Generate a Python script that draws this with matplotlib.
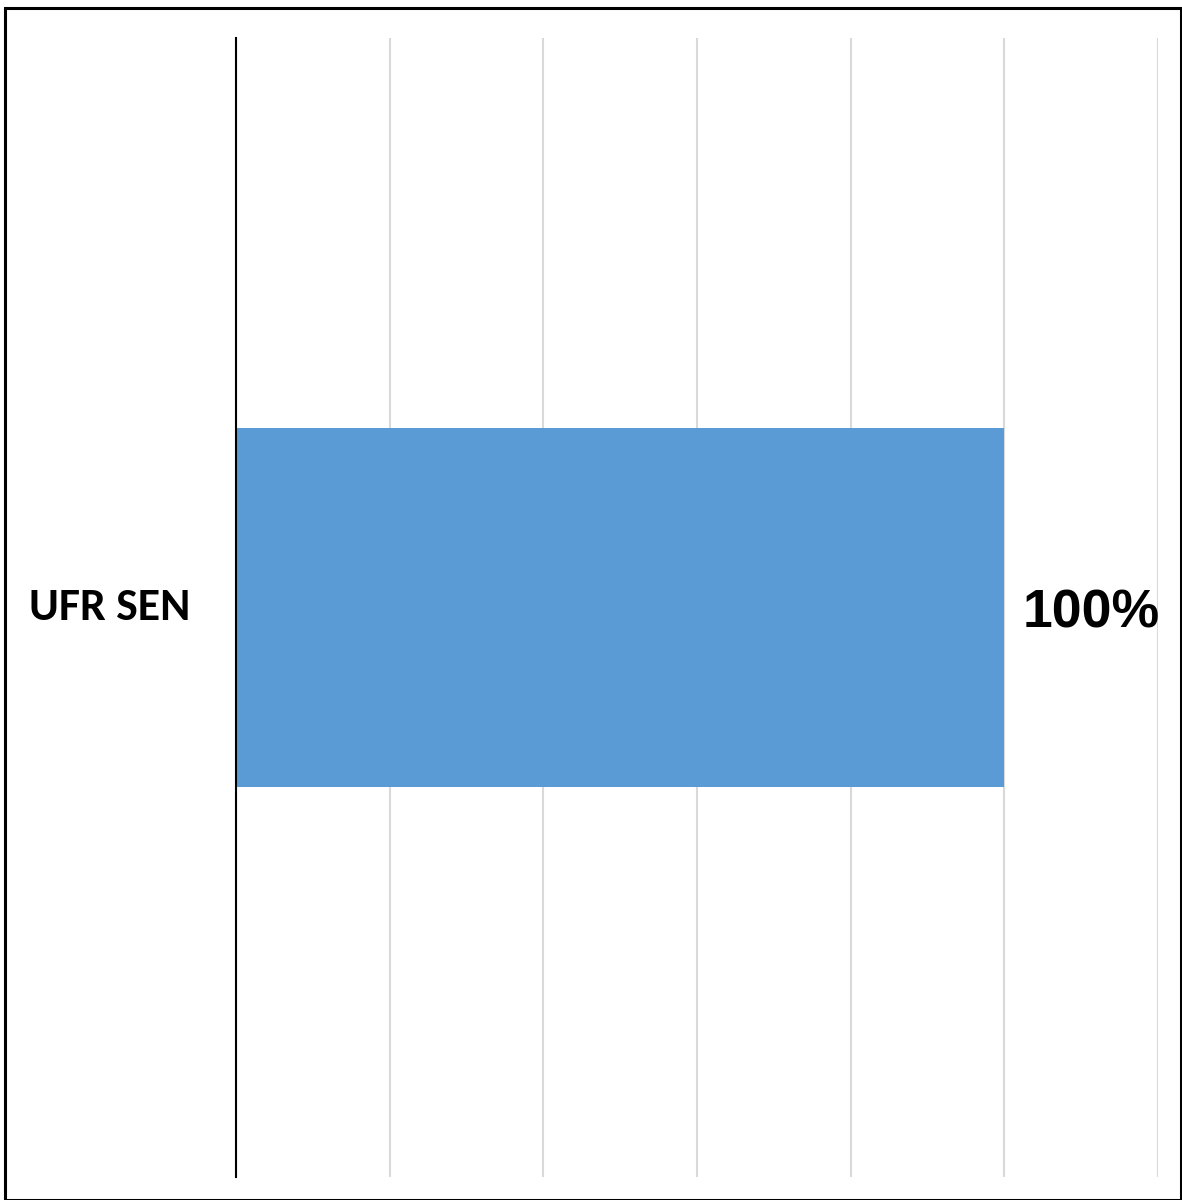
import matplotlib.pyplot as plt
from matplotlib.patches import Rectangle

# data
categories = ['UFR SEN']
values = [100]
value_labels = ['100%']

W, H = 1182, 1200
fig = plt.figure(figsize=(W / 100, H / 100), dpi=100)
ax = fig.add_axes([236 / W, 1 - 1177 / H, (1158 - 236) / W, (1177 - 38) / H])

ax.barh(range(len(categories)), values, height=0.315, color='#5B9BD5', zorder=3)
ax.set_xlim(0, 120)
ax.set_ylim(-0.5, 0.5)
ax.set_xticks(range(0, 121, 20))
ax.xaxis.grid(True, color='#D9D9D9', linewidth=1.5, zorder=0)
ax.tick_params(left=False, bottom=False, labelbottom=False, labelleft=False)
for s in ['top', 'right', 'bottom']:
    ax.spines[s].set_visible(False)
ax.spines['left'].set_linewidth(1.5)
ax.spines['left'].set_zorder(4)

for i, (cat, v, lab) in enumerate(zip(categories, values, value_labels)):
    ax.text(-6, i, cat, ha='right', va='center', fontsize=33,
            fontweight='bold', family=['Carlito', 'Lato'])
    ax.text(v + 2.4, i - 0.005, lab, ha='left', va='center', fontsize=38.5,
            fontweight='bold', family=['Liberation Sans', 'DejaVu Sans'])

# outer frame
fig.patches.append(Rectangle((4.5 / W, 0.5 / H), 1 - 5.5 / W, 1 - 8 / H,
                             transform=fig.transFigure, fill=False,
                             edgecolor='black', linewidth=2.2))

fig.savefig('out.png', dpi=100)
